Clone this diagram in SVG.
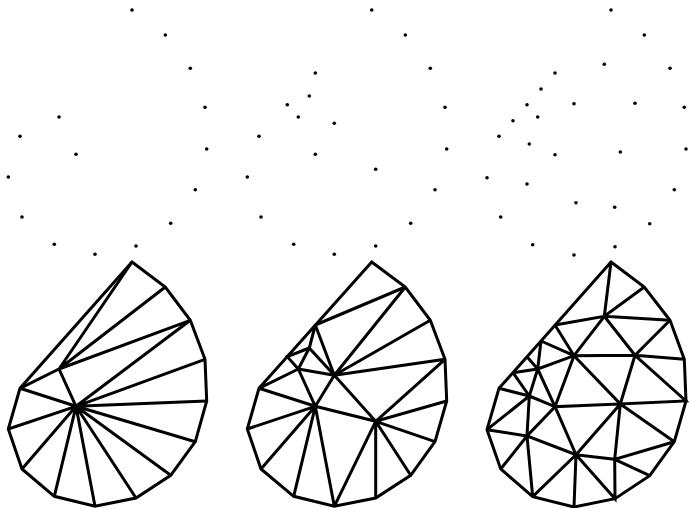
<svg xmlns="http://www.w3.org/2000/svg" width="689" height="508" viewBox="0 0 689 508">
<style>
.m{fill:none;stroke:#000;stroke-width:3;stroke-linejoin:miter}
.d circle{fill:#000;stroke:none;r:1.8px}
</style>
<rect width="689" height="508" fill="#fff"/>
<g id="points-1" class="d">
<circle cx="132" cy="10"/><circle cx="165.3" cy="35"/><circle cx="190.3" cy="68.3"/><circle cx="205" cy="107.3"/><circle cx="206.7" cy="149"/><circle cx="195.3" cy="189.7"/><circle cx="170.7" cy="223.3"/><circle cx="136" cy="246"/><circle cx="95" cy="254.3"/><circle cx="54.3" cy="244.3"/><circle cx="22" cy="217"/><circle cx="8.3" cy="177"/><circle cx="20" cy="136.3"/><circle cx="59" cy="117"/><circle cx="76" cy="154.3"/>
</g>
<g id="points-2" class="d">
<circle cx="371.7" cy="10"/><circle cx="405.3" cy="35"/><circle cx="430.3" cy="68.3"/><circle cx="445" cy="107.3"/><circle cx="446.7" cy="149"/><circle cx="435" cy="189.7"/><circle cx="410.7" cy="223.3"/><circle cx="375.7" cy="246"/><circle cx="334.3" cy="254.3"/><circle cx="293.7" cy="244.3"/><circle cx="261" cy="217"/><circle cx="247.3" cy="177"/><circle cx="259" cy="136.3"/><circle cx="315.3" cy="73"/><circle cx="309.3" cy="96"/><circle cx="287.3" cy="104.7"/><circle cx="298.3" cy="117"/><circle cx="334.3" cy="123.3"/><circle cx="315.3" cy="154.3"/><circle cx="375.7" cy="169.3"/>
</g>
<g id="points-3" class="d">
<circle cx="611" cy="10"/><circle cx="644.3" cy="35"/><circle cx="670" cy="68.3"/><circle cx="684.3" cy="107.3"/><circle cx="686" cy="149"/><circle cx="674.3" cy="189.7"/><circle cx="649.7" cy="223.7"/><circle cx="615" cy="246.7"/><circle cx="574" cy="255"/><circle cx="532.7" cy="244.7"/><circle cx="500.7" cy="217"/><circle cx="487" cy="177.7"/><circle cx="499" cy="136.3"/><circle cx="604.3" cy="64.3"/><circle cx="555" cy="73"/><circle cx="541" cy="89"/><circle cx="527" cy="104.7"/><circle cx="513" cy="120.7"/><circle cx="574" cy="103.7"/><circle cx="635" cy="103.3"/><circle cx="537.7" cy="117"/><circle cx="529.3" cy="144"/><circle cx="555" cy="154.7"/><circle cx="620.3" cy="152"/><circle cx="527" cy="184"/><circle cx="576" cy="202.7"/><circle cx="614.7" cy="207.3"/>
</g>
<g id="connectors" transform="translate(0 252)">
<g id="mesh-1" class="m">
<polygon points="132,10 165.3,35 190.3,68.3 205,107.3 206.7,149 195.3,189.7 170.7,223.3 136,246 95,254.3 54.3,244.3 22,217 8.3,177 20,136.3"/>
<path d="M132 10L59 117M165.3 35L59 117M190.3 68.3L59 117M20 136.3L59 117L76 154.3M190.3 68.3L76 154.3M205 107.3L76 154.3M206.7 149L76 154.3M195.3 189.7L76 154.3M170.7 223.3L76 154.3M136 246L76 154.3M95 254.3L76 154.3M54.3 244.3L76 154.3M22 217L76 154.3M8.3 177L76 154.3M20 136.3L76 154.3"/>
</g>
<g id="mesh-2" class="m">
<polygon points="371.7,10 405.3,35 430.3,68.3 445,107.3 446.7,149 435,189.7 410.7,223.3 375.7,246 334.3,254.3 293.7,244.3 261,217 247.3,177 259,136.3"/>
<path d="M315.3 73L405.3 35L334.3 123.3M430.3 68.3L334.3 123.3M445 107.3L334.3 123.3M445 107.3L375.7 169.3M446.7 149L375.7 169.3M435 189.7L375.7 169.3M410.7 223.3L375.7 169.3M375.7 246L375.7 169.3M334.3 254.3L375.7 169.3M334.3 254.3L315.3 154.3M293.7 244.3L315.3 154.3M261 217L315.3 154.3M247.3 177L315.3 154.3M259 136.3L315.3 154.3L375.7 169.3L334.3 123.3L315.3 154.3M315.3 73L334.3 123.3L309.3 96L315.3 73M309.3 96L298.3 117M309.3 96L287.3 104.7L298.3 117L315.3 154.3M298.3 117L334.3 123.3M298.3 117L259 136.3"/>
</g>
<g id="mesh-3" class="m">
<polygon points="611,10 644.3,35 670,68.3 684.3,107.3 686,149 674.3,189.7 649.7,223.7 615,246.7 574,255 532.7,244.7 500.7,217 487,177.7 499,136.3"/>
<path d="M611 10L604.3 64.3M644.3 35L604.3 64.3L670 68.3M555 73L604.3 64.3L574 103.7M604.3 64.3L635 103.3M555 73L574 103.7M541 89L574 103.7M541 89L537.7 117M527 104.7L537.7 117M513 120.7L537.7 117M513 120.7L529.3 144M499 136.3L529.3 144M487 177.7L529.3 144M487 177.7L527 184M500.7 217L527 184M532.7 244.7L527 184L529.3 144L537.7 117L574 103.7L555 154.7L537.7 117M529.3 144L555 154.7L527 184L576 202.7L555 154.7L620.3 152L574 103.7L635 103.3L670 68.3M635 103.3L684.3 107.3M635 103.3L686 149L620.3 152L635 103.3M620.3 152L674.3 189.7M620.3 152L576 202.7M620.3 152L614.7 207.3L576 202.7L532.7 244.7M576 202.7L574 255M576 202.7L615 246.7L614.7 207.3L674.3 189.7M614.7 207.3L649.7 223.7"/>
</g>
</g>
</svg>
